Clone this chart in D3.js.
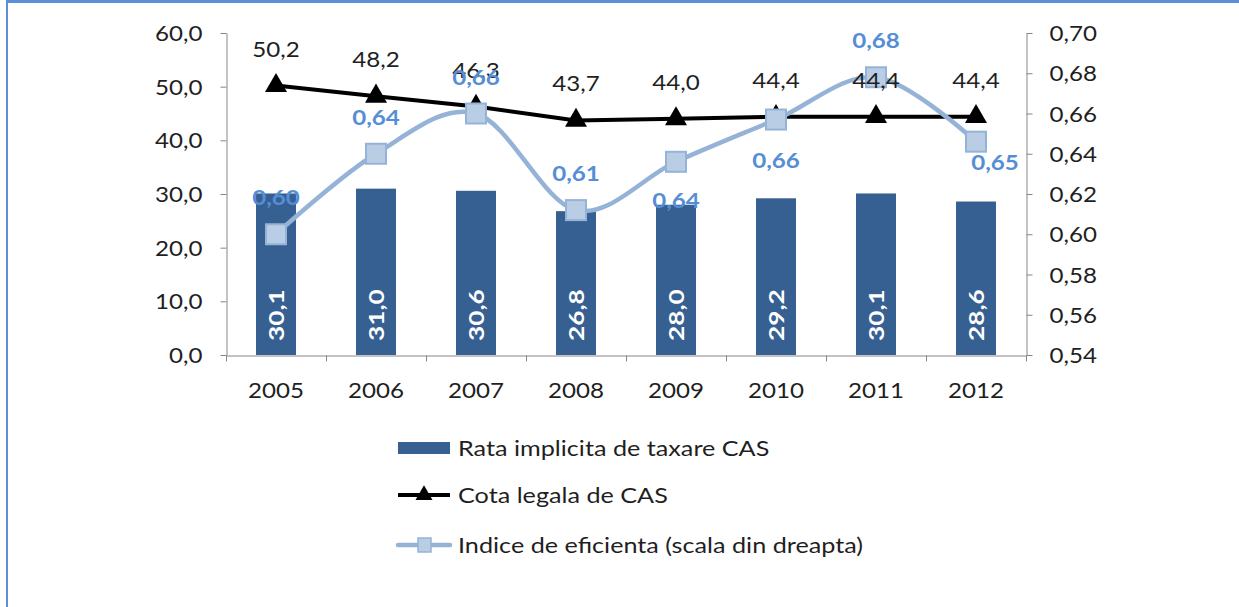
<!DOCTYPE html>
<html>
<head>
<meta charset="utf-8">
<script src="https://cdn.jsdelivr.net/npm/d3@7"></script>
<style>
  html, body { margin: 0; padding: 0; background: #fff; }
  svg { display: block; }
  text { font-family: Lato, "Open Sans", sans-serif; }
</style>
</head>
<body>
<svg id="chart" width="1239" height="607"></svg>
<script>
// ---- data ----
const years = ["2005", "2006", "2007", "2008", "2009", "2010", "2011", "2012"];
const rataImplicita = [30.1, 31.0, 30.6, 26.8, 28.0, 29.2, 30.1, 28.6];
const cotaLegala = [50.2, 48.2, 46.3, 43.7, 44.0, 44.4, 44.4, 44.4];
const indiceEficienta = [0.600, 0.640, 0.660, 0.612, 0.636, 0.657, 0.678, 0.646];
const leftTicks = [0, 10, 20, 30, 40, 50, 60];
const rightTicks = [0.54, 0.56, 0.58, 0.60, 0.62, 0.64, 0.66, 0.68, 0.70];
const legendLabels = ["Rata implicita de taxare CAS", "Cota legala de CAS", "Indice de eficienta (scala din dreapta)"];

// ---- layout / style ----
const C = {
  bar: "#376092", black: "#000000", blueLine: "#95B3D7", blueFill: "#B9CDE5",
  blueLabel: "#558ED5", text: "#1f1f1f", axis: "#868686", frame: "#5B8FD6"
};
const FS = 21, SX = 1.15, SXB = 1.25, SXL = 1.2;
const plot = { left: 226, right: 1026, top: 33, bottom: 355 };

const svg = d3.select("#chart");
const fmt1 = d => d3.format(".1f")(d).replace(".", ",");
const fmt2 = d => d3.format(".2f")(d).replace(".", ",");

// frame
svg.append("rect").attr("x", 6).attr("y", 0).attr("width", 1233).attr("height", 3).attr("fill", C.frame);
svg.append("rect").attr("x", 6).attr("y", 0).attr("width", 2).attr("height", 607).attr("fill", C.frame);

// scales
const x = d3.scaleBand().domain(years).range([plot.left, plot.right]).paddingInner(0.6).paddingOuter(0.3);
const xc = d => x(d) + x.bandwidth() / 2;
const xb = d3.scaleLinear().domain([0, years.length]).range([plot.left, plot.right]);
const yL = d3.scaleLinear().domain([0, 60]).range([plot.bottom, plot.top]);
const yR = d3.scaleLinear().domain([0.54, 0.70]).range([plot.bottom, plot.top]);

function styleAxis(g) {
  g.selectAll("path, line").attr("stroke", C.axis).attr("stroke-width", 1);
}

// left axis
const gL = svg.append("g").attr("transform", `translate(${plot.left + 0.5},0)`)
  .call(d3.axisLeft(yL).tickValues(leftTicks).tickSize(6).tickSizeOuter(0).tickFormat(fmt1));
styleAxis(gL);
gL.selectAll("text").attr("x", null).attr("dy", "0.36em").attr("fill", C.text)
  .style("font-size", FS + "px").attr("transform", `translate(-24,0) scale(${SX},1)`);

// right axis
const gR = svg.append("g").attr("transform", `translate(${plot.right + 0.5},0)`)
  .call(d3.axisRight(yR).tickValues(rightTicks).tickSize(6).tickSizeOuter(0).tickFormat(fmt2));
styleAxis(gR);
gR.selectAll("text").attr("x", null).attr("dy", "0.36em").attr("fill", C.text)
  .style("font-size", FS + "px").attr("transform", `translate(23,0) scale(${SX},1)`);

// x axis: boundary ticks
const gX = svg.append("g").attr("transform", `translate(0,${plot.bottom + 0.5})`)
  .call(d3.axisBottom(xb).tickValues(d3.range(years.length + 1)).tickSize(6).tickSizeOuter(0).tickFormat(""));
styleAxis(gX);
// x axis: category labels
const gXL = svg.append("g").attr("transform", `translate(0,${plot.bottom})`)
  .call(d3.axisBottom(x).tickSize(0).tickSizeOuter(0));
gXL.select(".domain").remove();
gXL.selectAll("text").attr("y", null).attr("dy", "0.36em").attr("fill", C.text)
  .style("font-size", FS + "px").attr("transform", `translate(0,35) scale(${SX},1)`);

// bars
svg.append("g").selectAll("rect").data(years).join("rect")
  .attr("x", d => x(d)).attr("width", x.bandwidth())
  .attr("y", (d, i) => yL(rataImplicita[i])).attr("height", (d, i) => plot.bottom - yL(rataImplicita[i]))
  .attr("fill", C.bar);
svg.append("g").selectAll("text").data(years).join("text")
  .attr("transform", d => `translate(${xc(d)},${plot.bottom - 14}) rotate(-90) scale(${SXB},1)`)
  .attr("dy", "0.36em").attr("fill", "#fff").style("font-size", FS + "px").style("font-weight", "bold")
  .text((d, i) => fmt1(rataImplicita[i]));

// black line
const lineL = d3.line().x(d => xc(d.year)).y(d => yL(d.v));
const cotaData = years.map((y, i) => ({ year: y, v: cotaLegala[i] }));
svg.append("path").datum(cotaData).attr("d", lineL).attr("fill", "none")
  .attr("stroke", C.black).attr("stroke-width", 4).attr("stroke-linejoin", "round");
svg.append("g").selectAll("path").data(cotaData).join("path")
  .attr("d", d3.symbol(d3.symbolTriangle, 210)())
  .attr("transform", d => `translate(${xc(d.year)},${yL(d.v)})`).attr("fill", C.black);

// blue smooth line (right axis)
const indData = years.map((y, i) => ({ year: y, v: indiceEficienta[i] }));
const lineR = d3.line().x(d => xc(d.year)).y(d => yR(d.v)).curve(d3.curveCardinal.tension(0));
svg.append("path").datum(indData).attr("d", lineR).attr("fill", "none")
  .attr("stroke", C.blueLine).attr("stroke-width", 4.5).attr("stroke-linecap", "round");
svg.append("g").selectAll("rect").data(indData).join("rect")
  .attr("x", d => xc(d.year) - 10).attr("y", d => yR(d.v) - 10).attr("width", 20).attr("height", 20)
  .attr("fill", C.blueFill).attr("stroke", C.blueLine).attr("stroke-width", 2);

// black value labels
svg.append("g").selectAll("text").data(cotaData).join("text")
  .attr("transform", d => `translate(${xc(d.year)},${yL(d.v) - 29}) scale(${SX},1)`)
  .attr("text-anchor", "middle").attr("fill", C.text).style("font-size", FS + "px")
  .text(d => fmt1(d.v));

// blue value labels (placement as in the source chart)
const blueShift = { "2009": [0, 46], "2010": [0, 48], "2012": [19, 28] };
svg.append("g").selectAll("text").data(indData).join("text")
  .attr("transform", d => {
    const s = blueShift[d.year] || [0, -29];
    return `translate(${xc(d.year) + s[0]},${yR(d.v) + s[1]}) scale(${SX},1)`;
  })
  .attr("text-anchor", "middle").attr("fill", C.blueLabel).style("font-size", FS + "px").style("font-weight", "bold")
  .text(d => fmt2(d.v));

// legend
const lg = svg.append("g");
const rowY = [448, 495, 545];
lg.append("rect").attr("x", 398).attr("y", rowY[0] - 6).attr("width", 52).attr("height", 12).attr("fill", C.bar);
lg.append("line").attr("x1", 398).attr("x2", 450).attr("y1", rowY[1]).attr("y2", rowY[1])
  .attr("stroke", C.black).attr("stroke-width", 4);
lg.append("path").attr("d", d3.symbol(d3.symbolTriangle, 125)())
  .attr("transform", `translate(424,${rowY[1]})`).attr("fill", C.black);
lg.append("line").attr("x1", 398).attr("x2", 450).attr("y1", rowY[2]).attr("y2", rowY[2])
  .attr("stroke", C.blueLine).attr("stroke-width", 4.5).attr("stroke-linecap", "round");
lg.append("rect").attr("x", 418).attr("y", rowY[2] - 7).attr("width", 13).attr("height", 14)
  .attr("fill", C.blueFill).attr("stroke", C.blueLine).attr("stroke-width", 1.5);
lg.selectAll("text").data(legendLabels).join("text")
  .attr("transform", (d, i) => `translate(458,${rowY[i]}) scale(${SXL},1)`)
  .attr("dy", "0.36em").attr("fill", C.text).style("font-size", FS + "px")
  .text(d => d);
</script>
</body>
</html>
